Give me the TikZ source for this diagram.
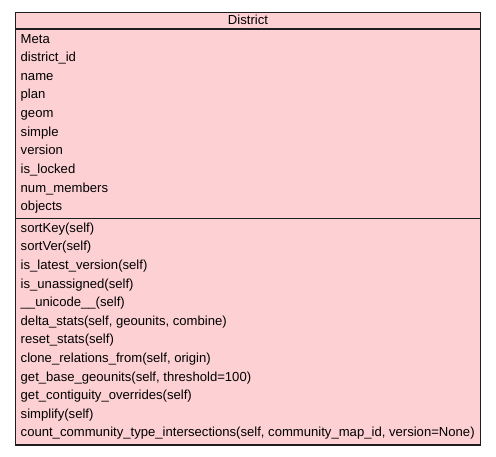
\documentclass[tikz,border=0pt]{standalone}
\usepackage{fontspec}
\setmainfont{Liberation Sans}
\definecolor{classfill}{RGB}{253,208,211}
\definecolor{classline}{RGB}{30,30,30}

\begin{document}
\begin{tikzpicture}[x=1pt, y=-1pt,
    member/.style={anchor=base west, inner sep=0pt, font=\fontsize{13.1}{15}\selectfont}]
    \useasboundingbox (0,0) rectangle (496,456);

    % Class box
    \draw[classline, fill=classfill, line width=1.3pt] (15.5,12.3) rectangle (480.5,445);
    \draw[classline, line width=1.3pt] (15.5,29) -- (480.5,29);
    \draw[classline, line width=1.3pt] (15.5,218.3) -- (480.5,218.3);

    % Class name
    \node[member, anchor=base] (title) at (248,24) {District};

    % Attributes
    \foreach \txt [count=\i] in {Meta, district\_id, name, plan, geom, simple,
        version, is\_locked, num\_members, objects}
        \node[member] (attr\i) at (20.5, 43+18.65*\i-18.65) {\txt};

    % Methods
    \foreach \txt [count=\i] in {sortKey(self), sortVer(self),
        is\_latest\_version(self), is\_unassigned(self), \_\_unicode\_\_(self),
        {delta\_stats(self, geounits, combine)}, reset\_stats(self),
        {clone\_relations\_from(self, origin)},
        {get\_base\_geounits(self, threshold=100)},
        get\_contiguity\_overrides(self), simplify(self),
        {count\_community\_type\_intersections(self, community\_map\_id, version=None)}}
        \node[member] (meth\i) at (20.5, 232.3+18.6*\i-18.6) {\txt};
\end{tikzpicture}
\end{document}
